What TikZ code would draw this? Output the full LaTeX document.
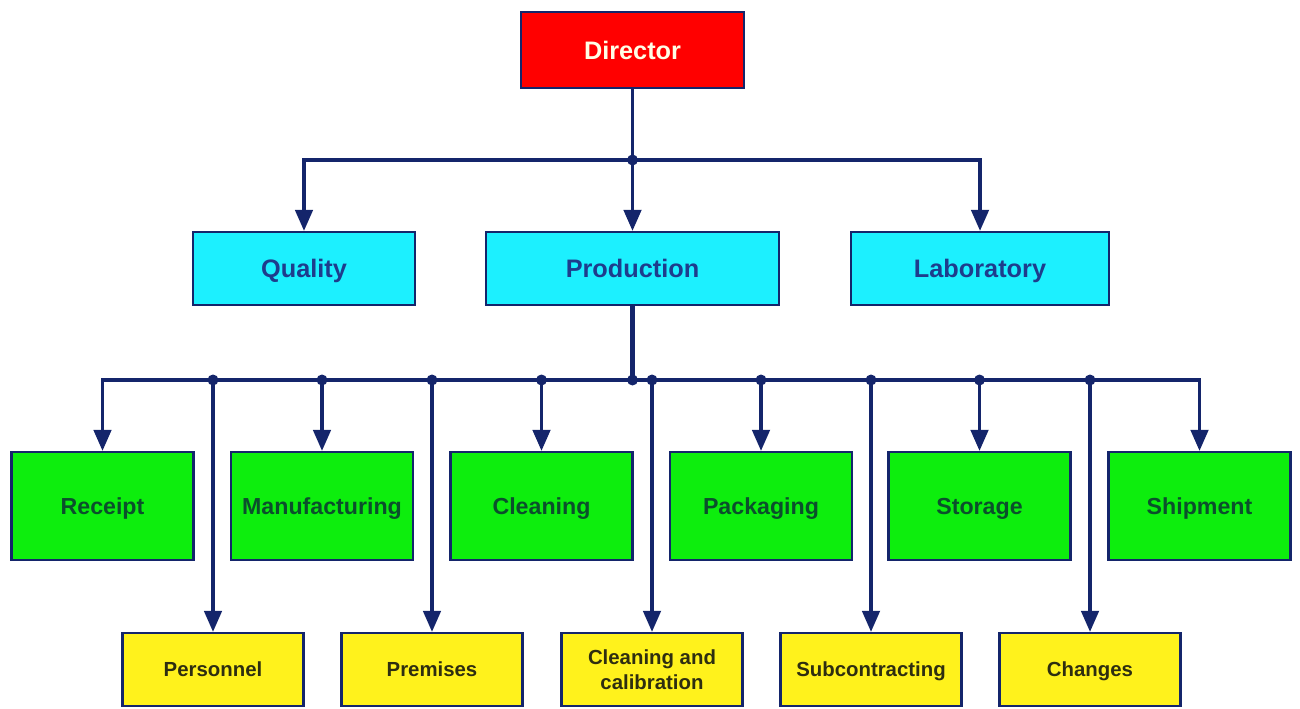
\documentclass[tikz,border=0pt]{standalone}
\usepackage{fontspec}
\setmainfont{Liberation Sans}
\usetikzlibrary{arrows.meta}
\definecolor{linkcol}{HTML}{14256B}
\definecolor{dirfill}{HTML}{FF0000}
\definecolor{deptfill}{HTML}{1CF0FF}
\definecolor{unitfill}{HTML}{0DEE0D}
\definecolor{topicfill}{HTML}{FFF21C}
\definecolor{depttext}{HTML}{1E3C8C}
\definecolor{unittext}{HTML}{0B4F2C}
\definecolor{topictext}{HTML}{2E2E10}

\begin{document}
\begin{tikzpicture}[x=0.02cm,y=-0.02cm,
						box/.style={rectangle, draw=linkcol, line width=1.3pt, inner sep=2pt, align=center, text depth=0pt},
						dirbox/.style={box, fill=dirfill, text=white!90!yellow, minimum width=4.46cm, minimum height=1.52cm, text height=10.4pt, font=\bfseries\fontsize{14.4}{17}\selectfont},
						deptbox/.style={box, fill=deptfill, text=depttext, minimum height=1.46cm, text height=10.4pt, font=\bfseries\fontsize{14.4}{17}\selectfont},
						unitbox/.style={box, fill=unitfill, text=unittext, minimum width=3.64cm, minimum height=2.16cm, text height=9.5pt, font=\bfseries\fontsize{13.2}{16}\selectfont},
						topicbox/.style={box, fill=topicfill, text=topictext, minimum width=3.62cm, minimum height=1.46cm, text height=8.4pt, font=\bfseries\fontsize{11.6}{14}\selectfont},
						link/.style={draw=linkcol, line width=1.8pt},
						arrowlink/.style={link, -{Triangle[width=10pt,length=12pt]}},
						]
						\useasboundingbox (0,0) rectangle (1300,709);
						%Nodes
						\node[dirbox]                        (dir)   at (632.5,50)    {Director};
						\node[deptbox, minimum width=4.44cm] (qual)  at (304,268.5)   {Quality};
						\node[deptbox, minimum width=5.86cm] (prod)  at (632.5,268.5) {Production};
						\node[deptbox, minimum width=5.16cm] (lab)   at (980,268.5)   {Laboratory};
						\node[unitbox]      (rec)   at (102.5,506)  {Receipt};
						\node[unitbox]      (manu)  at (322,506)    {Manufacturing};
						\node[unitbox]      (clean) at (541.5,506)  {Cleaning};
						\node[unitbox]      (pack)  at (761,506)    {Packaging};
						\node[unitbox]      (stor)  at (979.5,506)  {Storage};
						\node[unitbox]      (ship)  at (1199.5,506) {Shipment};
						\node[topicbox]     (pers)  at (213,669.5)  {Personnel};
						\node[topicbox]     (prem)  at (432,669.5)  {Premises};
						\node[topicbox, text height=, text depth=] (calib) at (652,669.5) {Cleaning and\\calibration};
						\node[topicbox]     (subc)  at (871,669.5)  {Subcontracting};
						\node[topicbox]     (chg)   at (1090,669.5) {Changes};
						%Junctions
						\coordinate (j0) at (632.5,160);
						\coordinate (j1) at (632.5,380);

						\draw[link] (dir.south) -- (j0);
						\draw[arrowlink] (j0) -| (qual.north);
						\draw[arrowlink] (j0) -- (prod.north);
						\draw[arrowlink] (j0) -| (lab.north);
						\fill[linkcol] (j0) circle (1.1mm);

						\draw[link, line width=3pt] (prod.south) -- (j1);
						\draw[arrowlink] (j1) -| (rec.north);
						\draw[arrowlink] (j1) -| (manu.north);
						\draw[arrowlink] (j1) -| (clean.north);
						\draw[arrowlink] (j1) -| (pack.north);
						\draw[arrowlink] (j1) -| (stor.north);
						\draw[arrowlink] (j1) -| (ship.north);
						\draw[arrowlink] (j1) -| (pers.north);
						\draw[arrowlink] (j1) -| (prem.north);
						\draw[arrowlink] (j1) -| (calib.north);
						\draw[arrowlink] (j1) -| (subc.north);
						\draw[arrowlink] (j1) -| (chg.north);
						\fill[linkcol] (j1) circle (1.1mm);
						\foreach \n in {manu,clean,pack,stor,pers,prem,calib,subc,chg}
							\fill[linkcol] (j1 -| \n.north) circle (1.1mm);
					\end{tikzpicture}
\end{document}
